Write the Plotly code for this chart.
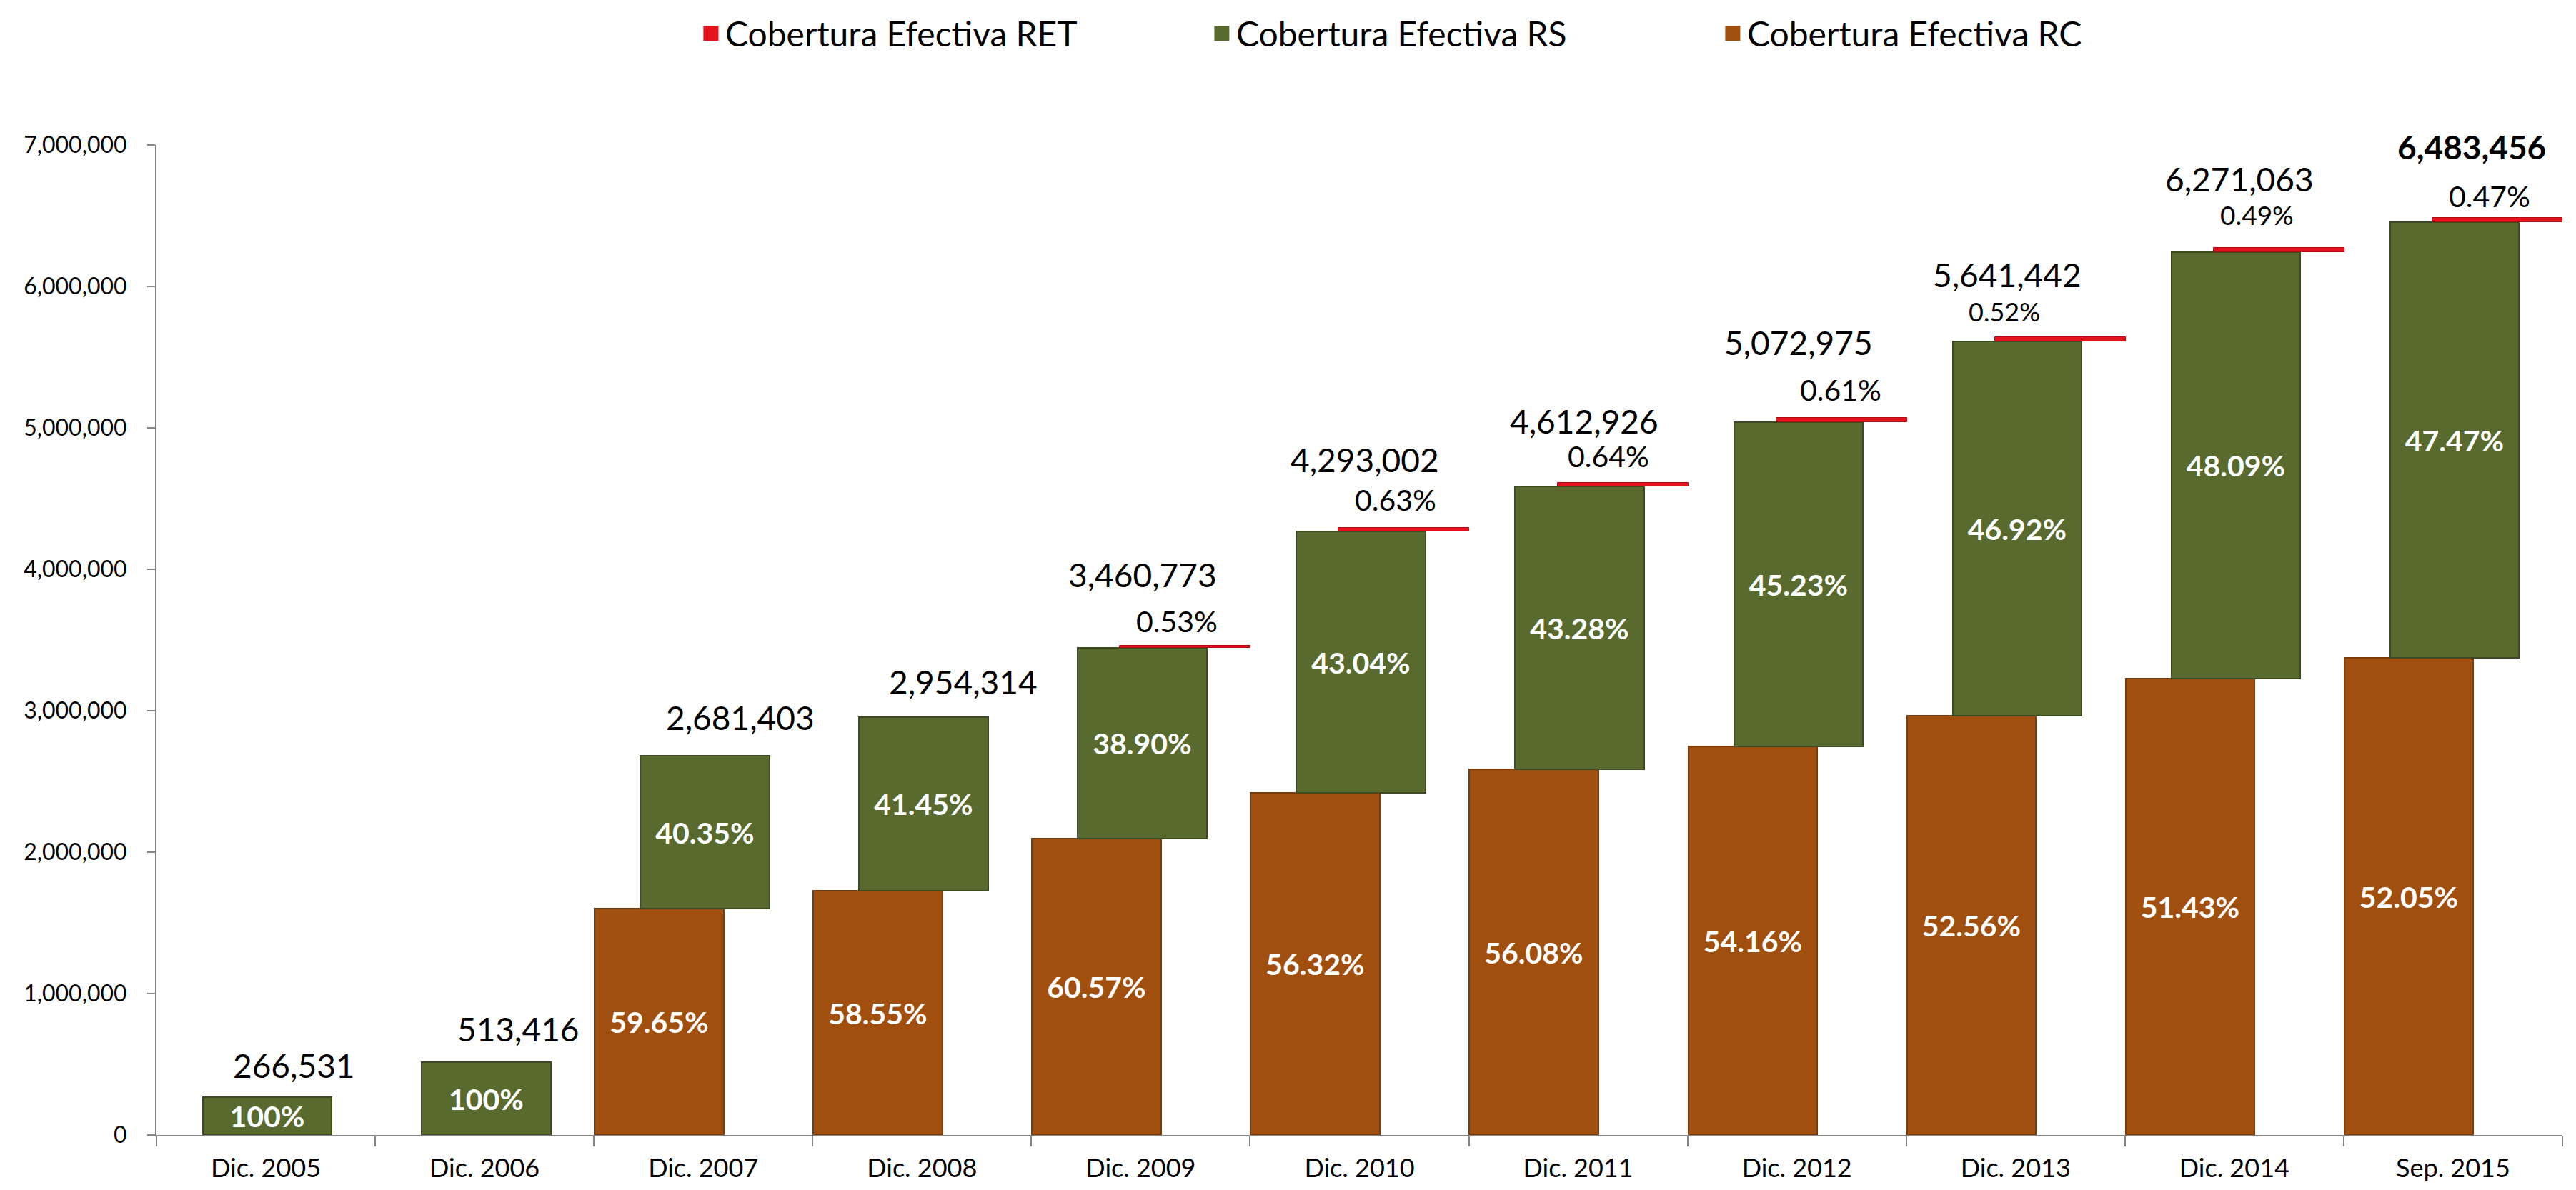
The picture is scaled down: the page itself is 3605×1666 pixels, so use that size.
import plotly.graph_objects as go
import numpy as np

# ---------------- data ----------------
categories = ["Dic. 2005", "Dic. 2006", "Dic. 2007", "Dic. 2008", "Dic. 2009", "Dic. 2010",
              "Dic. 2011", "Dic. 2012", "Dic. 2013", "Dic. 2014", "Sep. 2015"]
totals = [266531, 513416, 2681403, 2954314, 3460773, 4293002,
          4612926, 5072975, 5641442, 6271063, 6483456]
rc_values = [None, None, 1599457, 1729751, 2096190, 2417819,
             2586929, 2747524, 2965142, 3225208, 3374639]
rs_values = [266531, 513416, 1081946, 1224563, 1346241, 1848137,
             1996474, 2294506, 2646965, 3015127, 3078345]
ret_values = [None, None, None, None, 18342, 27046,
              29523, 30945, 29335, 30728, 30472]
rc_pct = ["", "", "59.65%", "58.55%", "60.57%", "56.32%", "56.08%", "54.16%", "52.56%", "51.43%", "52.05%"]
rs_pct = ["100%", "100%", "40.35%", "41.45%", "38.90%", "43.04%", "43.28%", "45.23%", "46.92%", "48.09%", "47.47%"]
ret_pct = ["", "", "", "", "0.53%", "0.63%", "0.64%", "0.61%", "0.52%", "0.49%", "0.47%"]
y_tickvals = [0, 1000000, 2000000, 3000000, 4000000, 5000000, 6000000, 7000000]

# ---------------- label placement / style (pixels) ----------------
total_dx = [39, 47, 52, 58, 3, 7, 8, 2, -12, 7, 26]
total_dy = [45, 47, 54, 50, 99, 95, 86, 105, 87, 97, 100]
ret_dx = [0, 0, 0, 0, 51, 50, 42, 61, -16, 32, 51]
ret_dy = [0, 0, 0, 0, 34, 39, 37, 39, 36, 47, 31]
ret_fs = [41, 41, 41, 41, 41, 41, 41, 41, 36, 37, 41]

FONT = "Lato"
C_RC, C_RC_LINE = "#A14F0E", "#7A3C0A"
C_RS, C_RS_LINE = "#596A2E", "#3E4A1F"
C_RET, C_RET_LINE = "#E4131E", "#B00C14"

rc_arr = np.array([v if v is not None else 0 for v in rc_values], dtype=float)
rs_arr = np.array(rs_values, dtype=float)
rs_base = rc_arr
ret_base = rc_arr + rs_arr

BW = 0.59
fig = go.Figure()
fig.add_trace(go.Bar(
    x=categories, y=rc_values, name="Cobertura Efectiva RC",
    width=BW, offset=-0.497,
    marker=dict(color=C_RC, line=dict(color=C_RC_LINE, width=2)),
    text=rc_pct, textposition="inside", insidetextanchor="middle", textangle=0,
    textfont=dict(family=FONT, size=41, color="white", weight="bold"),
    showlegend=False,
))
fig.add_trace(go.Bar(
    x=categories, y=rs_values, base=rs_base, name="Cobertura Efectiva RS",
    width=BW, offset=-0.288,
    marker=dict(color=C_RS, line=dict(color=C_RS_LINE, width=2)),
    text=rs_pct, textposition="inside", insidetextanchor="middle", textangle=0,
    textfont=dict(family=FONT, size=41, color="white", weight="bold"),
    showlegend=False,
))
fig.add_trace(go.Bar(
    x=categories, y=ret_values, base=ret_base, name="Cobertura Efectiva RET",
    width=0.598, offset=-0.095,
    marker=dict(color=C_RET, line=dict(color=C_RET_LINE, width=1)),
    showlegend=False,
))

# legend entries (large square swatches)
for name, col, rank in [("Cobertura Efectiva RET", C_RET, 1),
                        ("Cobertura Efectiva RS", C_RS, 2),
                        ("Cobertura Efectiva RC", C_RC, 3)]:
    fig.add_trace(go.Scatter(
        x=[None], y=[None], mode="markers", name=name,
        marker=dict(symbol="square", size=16, color=col, line=dict(color=col, width=5)),
        legendrank=rank, showlegend=True, hoverinfo="skip",
    ))

annotations = []
for i, cat in enumerate(categories):
    last = i == len(categories) - 1
    annotations.append(dict(
        x=cat, y=totals[i], xref="x", yref="y",
        text=f"{totals[i]:,}", showarrow=False,
        xanchor="center", yanchor="middle",
        xshift=total_dx[i], yshift=total_dy[i],
        font=dict(family=FONT, size=46, color="black", weight="bold" if last else "normal"),
    ))
    if ret_pct[i]:
        annotations.append(dict(
            x=cat, y=totals[i], xref="x", yref="y",
            text=ret_pct[i], showarrow=False,
            xanchor="center", yanchor="middle",
            xshift=ret_dx[i], yshift=ret_dy[i],
            font=dict(family=FONT, size=ret_fs[i], color="black"),
        ))

fig.update_layout(
    width=3605, height=1666,
    margin=dict(l=211, r=27, t=195, b=85, autoexpand=False),
    paper_bgcolor="white", plot_bgcolor="white",
    barmode="overlay",
    font=dict(family=FONT, color="black"),
    uniformtext=dict(minsize=41, mode="show"),
    showlegend=True,
    legend=dict(
        orientation="h", x=0.2245, xanchor="left", y=1.1126, yanchor="middle",
        font=dict(family=FONT, size=48, color="black"),
        entrywidth=670, entrywidthmode="pixels",
        bgcolor="rgba(0,0,0,0)",
    ),
    annotations=annotations,
    bargap=0,
)
fig.update_xaxes(
    type="category", range=[-0.5, 10.5],
    showline=True, linecolor="#868686", linewidth=2,
    ticks="outside", tickson="boundaries", ticklen=14, tickwidth=2, tickcolor="#868686",
    tickfont=dict(family=FONT, size=36, color="black"),
    ticklabelstandoff=14,
    showgrid=False, zeroline=False,
)
fig.update_yaxes(
    range=[0, 7000000], tickvals=y_tickvals, tickformat=",",
    showline=True, linecolor="#868686", linewidth=2,
    ticks="outside", ticklen=11, tickwidth=2, tickcolor="#868686",
    tickfont=dict(family=FONT, size=32, color="black"),
    ticklabelstandoff=22,
    showgrid=False, zeroline=False,
)

fig.write_html("out.html")
